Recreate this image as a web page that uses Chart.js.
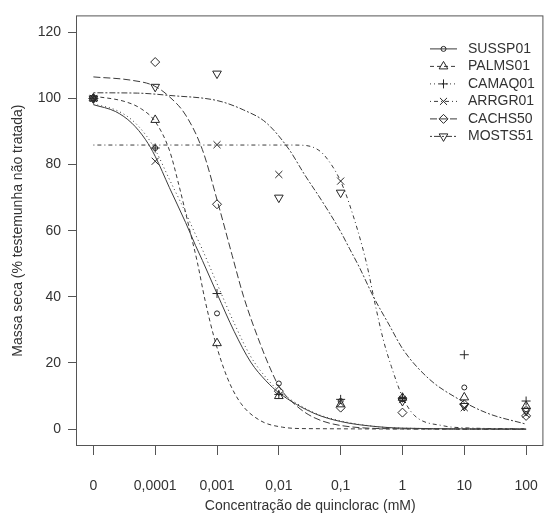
<!DOCTYPE html>
<html>
<head>
<meta charset="utf-8">
<script src="https://cdn.jsdelivr.net/npm/chart.js@4/dist/chart.umd.min.js"></script>
<style>
html,body{margin:0;padding:0;background:#fff;overflow:hidden;width:553px;height:513px}
#wrap{position:absolute;left:0;top:0;width:561px;height:513px}
canvas{display:block}
</style>
</head>
<body>
<div id="wrap"><canvas id="c" width="561" height="513"></canvas></div>
<script>
// ---- data ----
const doseValues = [0.00001, 0.0001, 0.001, 0.01, 0.1, 1, 10, 100]; // "0" plotted at 1e-5
const doseLabels = ['0', '0,0001', '0,001', '0,01', '0,1', '1', '10', '100'];
const yTicks = [0, 20, 40, 60, 80, 100, 120];
const seriesNames = ['SUSSP01', 'PALMS01', 'CAMAQ01', 'ARRGR01', 'CACHS50', 'MOSTS51'];

// observed points (% of untreated control)
const sussp01Obs = [100, 85, 35, 13.8, 8.5, 9, 12.6, 6];
const palms01Obs = [100, 93.5, 26, 10, 7.5, 9.5, 9.6, 7];
const camaq01Obs = [100, 85, 41, 10.5, 9, 9.5, 22.5, 8.5];
const arrgr01Obs = [100, 81, 86, 77, 75, 9, 6.5, 4.5];
const cachs50Obs = [100, 111, 68, 11.5, 6.5, 5, 7.5, 4];
const mosts51Obs = [100, 103.5, 107.5, 70, 71.5, 8.5, 7, 5.5];

// fitted curves (dose, value)
const sussp01CurveDose = [0.00001, 0.000023, 0.000042, 0.00007, 0.0001, 0.00017, 0.00031, 0.00045, 0.00058, 0.001, 0.0019, 0.0035, 0.0062, 0.01, 0.037, 0.1, 0.41, 1, 100];
const sussp01CurveVal  = [98.1, 96, 92.5, 87.5, 82.5, 73, 62.5, 55.5, 51, 41, 29.5, 20.3, 14.6, 11, 4.8, 2.3, 0.7, 0.3, 0];
const camaq01CurveDose = [0.00001, 0.000023, 0.000042, 0.00007, 0.0001, 0.00017, 0.00031, 0.00045, 0.00058, 0.001, 0.0019, 0.0035, 0.0062, 0.01, 0.037, 0.1, 0.41, 1, 100];
const camaq01CurveVal  = [98.3, 96.5, 93.5, 89, 84.5, 75.5, 65.5, 58.8, 54.3, 44, 32, 22, 15.6, 11.6, 5, 2.5, 0.7, 0.3, 0];
const palms01CurveDose = [0.00001, 0.000033, 0.00006, 0.0001, 0.00017, 0.00024, 0.000375, 0.00048, 0.00064, 0.00092, 0.00147, 0.00243, 0.005, 0.0114, 0.03, 100];
const palms01CurveVal  = [100.7, 99, 96.8, 93, 84.3, 74, 59, 50.5, 39, 27, 15.5, 7.8, 2.6, 0.6, 0.15, 0];
const arrgr01CurveDose = [0.00001, 0.015, 0.026, 0.0445, 0.0614, 0.098, 0.14, 0.258, 0.369, 0.49, 0.66, 1.01, 1.55, 4.6, 10, 100];
const arrgr01CurveVal  = [85.9, 85.9, 85.8, 84.3, 81.6, 75.3, 67.8, 50.7, 37, 27, 19, 9.6, 4.2, 1, 0.4, 0.1];
const cachs50CurveDose = [0.00001, 0.000041, 0.000096, 0.00017, 0.00031, 0.00058, 0.00103, 0.00176, 0.0027, 0.005, 0.0079, 0.0102, 0.02, 0.037, 0.1, 1, 100];
const cachs50CurveVal  = [106.5, 105.5, 103.8, 100.5, 95, 84.5, 68.5, 52.5, 40, 25.8, 16.8, 12.7, 6.8, 3.5, 1.1, 0.1, 0];
const mosts51CurveDose = [0.00001, 0.000052, 0.00017, 0.00103, 0.0027, 0.0062, 0.0146, 0.026, 0.051, 0.098, 0.14, 0.2, 0.34, 0.61, 1.03, 2.76, 7.26, 23.8, 100];
const mosts51CurveVal  = [101.7, 101.6, 100.9, 99.3, 96.5, 92.7, 84.6, 77, 68.7, 60, 54.5, 49, 40, 31.5, 24, 15, 9.6, 4.8, 1.5];

const obsList = [sussp01Obs, palms01Obs, camaq01Obs, arrgr01Obs, cachs50Obs, mosts51Obs];
const curveDoseList = [sussp01CurveDose, palms01CurveDose, camaq01CurveDose, arrgr01CurveDose, cachs50CurveDose, mosts51CurveDose];
const curveValList = [sussp01CurveVal, palms01CurveVal, camaq01CurveVal, arrgr01CurveVal, cachs50CurveVal, mosts51CurveVal];

// ---- styles ----
const LINE_COLOR = '#3a3a3a';
const MARK_COLOR = '#262626';
const TEXT_COLOR = '#333333';
const FONT_FAMILY = '"Liberation Sans", Arial, Helvetica, sans-serif';
const seriesStyle = [
  {dash: [], point: 'circle', r: 2.5, rot: 0},
  {dash: [4, 3], point: 'triangle', r: 5, rot: 0},
  {dash: [1, 3], point: 'cross', r: 4.5, rot: 0},
  {dash: [1, 3, 4, 3], point: 'crossRot', r: 5, rot: 0},
  {dash: [7, 3], point: 'rectRot', r: 4.5, rot: 0},
  {dash: [2, 2, 6, 2], point: 'triangle', r: 5, rot: 180}
];

Chart.defaults.font.family = FONT_FAMILY;
Chart.defaults.font.size = 14;
Chart.defaults.color = TEXT_COLOR;

const datasets = [];
seriesNames.forEach((name, i) => {
  const st = seriesStyle[i];
  datasets.push({
    type: 'line',
    label: name + ' (curva)',
    data: curveDoseList[i].map((d, k) => ({x: d, y: curveValList[i][k]})),
    borderColor: LINE_COLOR,
    borderWidth: 1,
    borderDash: st.dash,
    pointRadius: 0,
    fill: false,
    cubicInterpolationMode: 'monotone',
    order: 2
  });
  datasets.push({
    type: 'scatter',
    label: name,
    data: doseValues.map((d, k) => ({x: d, y: obsList[i][k]})),
    showLine: false,
    pointStyle: st.point,
    pointRadius: st.r,
    pointRotation: st.rot,
    pointBorderColor: MARK_COLOR,
    pointBackgroundColor: 'rgba(0,0,0,0)',
    pointBorderWidth: 1,
    order: 1
  });
});

const framePlugin = {
  id: 'frame',
  afterDraw(chart) {
    const {left, top, right, bottom} = chart.chartArea;
    const ctx = chart.ctx;
    ctx.save();
    ctx.strokeStyle = '#555';
    ctx.lineWidth = 1;
    ctx.setLineDash([]);
    ctx.strokeRect(left - 0.5, top + 0.5, right - left, bottom - top - 1);
    ctx.restore();
  }
};

const legendPlugin = {
  id: 'rLegend',
  afterDraw(chart) {
    const ctx = chart.ctx;
    const area = chart.chartArea;
    const x0 = area.left + 353, y0 = area.top + 33.5, rowH = 17.5;
    ctx.save();
    ctx.font = '14px ' + FONT_FAMILY;
    ctx.fillStyle = TEXT_COLOR;
    ctx.textBaseline = 'middle';
    ctx.textAlign = 'left';
    seriesNames.forEach((name, i) => {
      const st = seriesStyle[i];
      const y = y0 + i * rowH;
      ctx.strokeStyle = LINE_COLOR;
      ctx.lineWidth = 1;
      ctx.setLineDash(st.dash);
      ctx.beginPath();
      ctx.moveTo(x0, y);
      ctx.lineTo(x0 + 27, y);
      ctx.stroke();
      ctx.setLineDash([]);
      if (Chart.helpers && Chart.helpers.drawPoint) {
        ctx.save();
        ctx.strokeStyle = MARK_COLOR;
        ctx.fillStyle = 'rgba(0,0,0,0)';
        ctx.lineWidth = 1;
        Chart.helpers.drawPoint(ctx, {pointStyle: st.point, radius: st.r, rotation: st.rot, borderWidth: 1}, x0 + 13.5, y);
        ctx.restore();
      }
      ctx.fillStyle = TEXT_COLOR;
      ctx.fillText(name, x0 + 38, y);
    });
    ctx.restore();
  }
};

new Chart(document.getElementById('c'), {
  type: 'line',
  data: {datasets},
  options: {
    responsive: false,
    animation: false,
    events: [],
    layout: {padding: {top: 12, right: 0, bottom: 0, left: 0}},
    plugins: {legend: {display: false}, tooltip: {enabled: false}, title: {display: false}},
    scales: {
      x: {
        type: 'logarithmic',
        min: Math.pow(10, -5.265),
        max: Math.pow(10, 2.28),
        afterBuildTicks: (s) => { s.ticks = doseValues.map(v => ({value: v})); },
        afterFit: (s) => { s.height = 67; },
        ticks: {
          autoSkip: false, maxRotation: 0, minRotation: 0, padding: 23,
          color: TEXT_COLOR, font: {size: 14},
          callback: (v, idx) => doseLabels[idx]
        },
        grid: {drawOnChartArea: false, drawTicks: true, tickLength: 9, color: '#555', lineWidth: 1},
        border: {display: false},
        title: {display: true, text: 'Concentração de quinclorac (mM)', color: TEXT_COLOR,
                font: {size: 14, lineHeight: 1}, padding: {top: 0, bottom: 0}}
      },
      y: {
        type: 'linear',
        min: -5.1,
        max: 125.1,
        afterBuildTicks: (s) => { s.ticks = yTicks.map(v => ({value: v})); },
        afterFit: (s) => { s.width = 77; },
        ticks: {padding: 7, color: TEXT_COLOR, font: {size: 14}, callback: (v) => String(v)},
        grid: {drawOnChartArea: false, drawTicks: true, tickLength: 9, color: '#555', lineWidth: 1},
        border: {display: false},
        title: {display: true, text: 'Massa seca (% testemunha não tratada)', color: TEXT_COLOR,
                font: {size: 14, lineHeight: 1}, padding: {top: 11.5, bottom: 0}}
      }
    }
  },
  plugins: [framePlugin, legendPlugin]
});
</script>
</body>
</html>
